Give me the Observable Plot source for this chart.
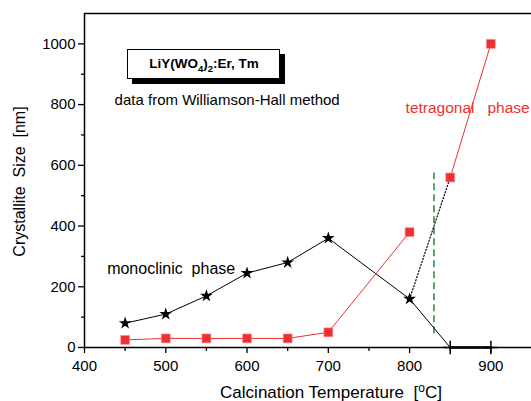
<!DOCTYPE html>
<html>
<head>
<meta charset="utf-8">
<script src="https://cdn.jsdelivr.net/npm/d3@7"></script>
<script src="https://cdn.jsdelivr.net/npm/@observablehq/plot@0.6"></script>
<style>
  html, body { margin: 0; padding: 0; background: #fff; }
  svg { font-family: "Liberation Sans", Arial, sans-serif; }
</style>
</head>
<body>
<div id="chart"></div>
<script>
// Data
const temps = [450, 500, 550, 600, 650, 700, 800, 850, 900];
const monoclinic = [80, 110, 170, 245, 280, 360, 160, 0, 0];
const tetraLow = [[450, 25], [500, 30], [550, 30], [600, 30], [650, 30], [700, 50], [800, 380]];
const tetraHigh = [[850, 560], [900, 1000]];
const transition = [[800, 160], [850, 560]];
const boundaryT = 830;
const boundaryRange = [45, 575];
const xTicks = [400, 500, 600, 700, 800, 900];
const xMinor = [450, 550, 650, 750, 850];
const yTicks = [0, 200, 400, 600, 800, 1000];
const yMinor = [100, 300, 500, 700, 900];

const mono = temps.map((t, i) => ({t, v: monoclinic[i]}));
const monoStars = mono.filter(d => d.v > 0);
const monoZero = mono.filter(d => d.v === 0);

const red = "#ee3030";

function titleBox(index, scales, values, dim) {
  const g = d3.create("svg:g");
  g.append("rect").attr("x", 132).attr("y", 54).attr("width", 153).attr("height", 30).attr("fill", "#000");
  g.append("rect").attr("x", 127.5).attr("y", 49.5).attr("width", 152).attr("height", 29).attr("fill", "#fff").attr("stroke", "#000").attr("stroke-width", 1);
  const t = g.append("text").attr("x", 204).attr("y", 68).attr("text-anchor", "middle")
    .attr("font-size", 13.5).attr("font-weight", "bold").attr("fill", "#000");
  t.append("tspan").text("LiY(WO");
  t.append("tspan").attr("font-size", 9.5).attr("dy", 4).text("4");
  t.append("tspan").attr("dy", -4).text(")");
  t.append("tspan").attr("font-size", 9.5).attr("dy", 4).text("2");
  t.append("tspan").attr("dy", -4).text(":Er, Tm");
  return g.node();
}

function xLabel() {
  const t = d3.create("svg:text").attr("x", 331).attr("y", 398).attr("text-anchor", "middle")
    .attr("font-size", 17).attr("fill", "#000");
  t.append("tspan").text("Calcination Temperature\u00a0\u00a0[");
  t.append("tspan").attr("font-size", 12).attr("dy", -6).text("o");
  t.append("tspan").attr("dy", 6).text("C]");
  return t.node();
}

const plot = Plot.plot({
  width: 531,
  height: 401,
  marginLeft: 84,
  marginRight: 0,
  marginTop: 13,
  marginBottom: 54,
  style: {fontFamily: "Liberation Sans, Arial, sans-serif", fontSize: "15px", color: "#000"},
  x: {domain: [400, 950]},
  y: {domain: [0, 1100]},
  marks: [
    Plot.axisX(xTicks, {tickSize: 6, tickPadding: 7, fontSize: 15, label: null, strokeWidth: 1.3, tickFormat: d3.format("d")}),
    Plot.axisX(xMinor, {tickSize: 4, text: null, label: null, strokeWidth: 1.3}),
    Plot.axisY(yTicks, {tickSize: 6, tickPadding: 3, fontSize: 15, label: null, strokeWidth: 1.3, tickFormat: d3.format("d")}),
    Plot.axisY(yMinor, {tickSize: 3, text: null, label: null, strokeWidth: 1.3}),
    Plot.ruleX([400], {stroke: "#000", strokeWidth: 1.5}),
    Plot.ruleY([1100], {stroke: "#000", strokeWidth: 1.5}),
    Plot.ruleX([boundaryT], {y1: boundaryRange[0], y2: boundaryRange[1], stroke: "#1e8a3c", strokeWidth: 1.5, strokeDasharray: "7,4"}),
    Plot.line(mono, {x: "t", y: "v", stroke: "#000", strokeWidth: 1}),
    Plot.line(monoZero, {x: "t", y: "v", stroke: "#333", strokeWidth: 3}),
    Plot.line(transition, {x: d => d[0], y: d => d[1], stroke: "#000", strokeWidth: 1.2, strokeDasharray: "1.2,2"}),
    Plot.line(tetraLow, {x: d => d[0], y: d => d[1], stroke: red, strokeWidth: 1}),
    Plot.line(tetraHigh, {x: d => d[0], y: d => d[1], stroke: red, strokeWidth: 1}),
    Plot.ruleY([0], {stroke: "#000", strokeWidth: 1.5}),
    Plot.dot(tetraLow.concat(tetraHigh), {x: d => d[0], y: d => d[1], symbol: "square", r: 5, fill: red, stroke: "#f88", strokeWidth: 0.6}),
    Plot.dot(monoStars, {x: "t", y: "v", symbol: "star", r: 4, fill: "#000", stroke: "none"}),
    Plot.dot(monoZero, {x: "t", y: "v", symbol: "plus", r: 4.5, stroke: "#000", strokeWidth: 1.5}),
    Plot.text(["monoclinic\u00a0\u00a0phase"], {x: 450, y: 258, text: d => d, textAnchor: "start", dx: -18, fontSize: 16, fill: "#000"}),
    Plot.text(["tetragonal\u00a0\u00a0\u00a0phase"], {x: 800, y: 790, text: d => d, textAnchor: "start", dx: -4, fontSize: 15.5, fill: red}),
    Plot.text(["data from Williamson-Hall method"], {x: 575.5, y: 815, text: d => d, textAnchor: "middle", fontSize: 15, fill: "#000"}),
    Plot.text(["Crystallite\u00a0\u00a0Size\u00a0\u00a0[nm]"], {frameAnchor: "left", textAnchor: "middle", text: d => d, rotate: -90, dx: -65, dy: 1, fontSize: 16, fill: "#000"}),
    titleBox,
    xLabel
  ]
});
document.getElementById("chart").appendChild(plot);
</script>
</body>
</html>
